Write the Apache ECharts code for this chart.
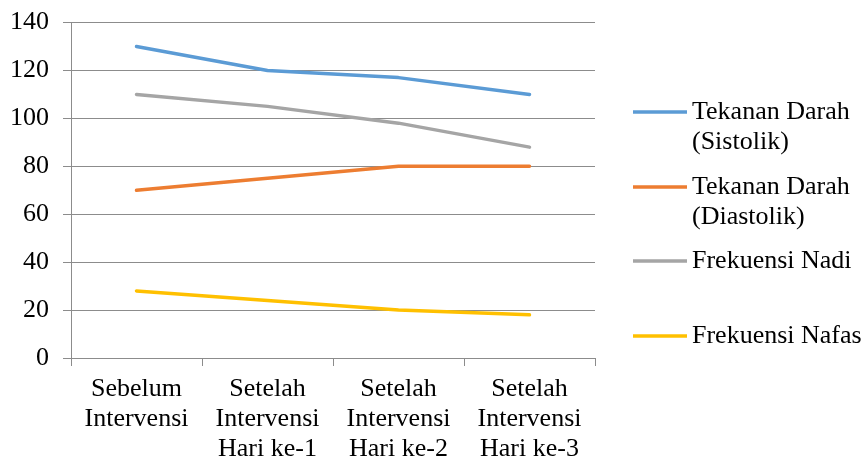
<!DOCTYPE html>
<html>
<head>
<meta charset="utf-8">
<script src="https://cdn.jsdelivr.net/npm/echarts@6/dist/echarts.min.js"></script>
<style>
  html, body { margin: 0; padding: 0; background: #fff; }
  #chart { width: 866px; height: 464px; }
</style>
</head>
<body>
<div id="chart"></div>
<script>
// Categories along the x axis
const categories = [
  'Sebelum\nIntervensi',
  'Setelah\nIntervensi\nHari ke-1',
  'Setelah\nIntervensi\nHari ke-2',
  'Setelah\nIntervensi\nHari ke-3'
];

// Series names (two-line names are split with \n)
const seriesNames = [
  'Tekanan Darah\n(Sistolik)',
  'Tekanan Darah\n(Diastolik)',
  'Frekuensi Nadi',
  'Frekuensi Nafas'
];

// Values per series
const sistolik  = [130, 120, 117, 110];
const diastolik = [70, 75, 80, 80];
const nadi      = [110, 105, 98, 88];
const nafas     = [28, 24, 20, 18];

// Y axis ticks
const yMin = 0, yMax = 140, yStep = 20;

const seriesData = [sistolik, diastolik, nadi, nafas];
const colors = ['#5B9BD5', '#ED7D31', '#A5A5A5', '#FFC000'];

const FONT = '"Liberation Serif", "Times New Roman", serif';
const AXIS_GRAY = '#8c8c8c';

// Legend rows: vertical centre of each legend line icon
const legendIconY = [112, 187, 261, 336];

// One legend per entry so each row can be placed on its own.
// Two-line labels get a leading empty line, so the icon sits level
// with the first text line instead of between the two lines.
const legends = seriesNames.map((name, i) => {
  const twoLine = name.indexOf('\n') >= 0;
  return {
    data: [name],
    orient: 'vertical',
    left: 633,
    top: twoLine ? legendIconY[i] - 45 : legendIconY[i] - 15,
    icon: 'rect',
    itemWidth: 54,
    itemHeight: 3.5,
    padding: 0,
    selectedMode: false,
    formatter: n => (twoLine ? '\n' + n : n),
    textStyle: {
      fontFamily: FONT,
      fontSize: 26,
      color: '#000',
      lineHeight: 30
    }
  };
});

const chart = echarts.init(document.getElementById('chart'), null, { renderer: 'canvas' });

chart.setOption({
  animation: false,
  backgroundColor: '#fff',
  legend: legends,
  grid: { left: 71, right: 271, top: 22.5, bottom: 104, containLabel: false },
  xAxis: {
    type: 'category',
    data: categories,
    boundaryGap: true,
    axisLine: { show: true, lineStyle: { color: AXIS_GRAY, width: 1 } },
    axisTick: { show: true, length: 8, inside: false, alignWithLabel: false, lineStyle: { color: AXIS_GRAY } },
    axisLabel: {
      fontFamily: FONT,
      fontSize: 26,
      color: '#000',
      lineHeight: 30,
      margin: 16,
      interval: 0
    },
    splitLine: { show: false }
  },
  yAxis: {
    type: 'value',
    min: yMin,
    max: yMax,
    interval: yStep,
    axisLine: { show: true, lineStyle: { color: AXIS_GRAY, width: 1 } },
    axisTick: { show: true, length: 8, lineStyle: { color: AXIS_GRAY } },
    axisLabel: {
      fontFamily: FONT,
      fontSize: 26,
      color: '#000',
      margin: 22
    },
    splitLine: { show: true, lineStyle: { color: AXIS_GRAY, width: 1 } }
  },
  series: seriesNames.map((name, i) => ({
    name: name,
    type: 'line',
    data: seriesData[i],
    symbol: 'none',
    color: colors[i],
    lineStyle: { color: colors[i], width: 3.5, cap: 'round', join: 'round' }
  }))
});
</script>
</body>
</html>
